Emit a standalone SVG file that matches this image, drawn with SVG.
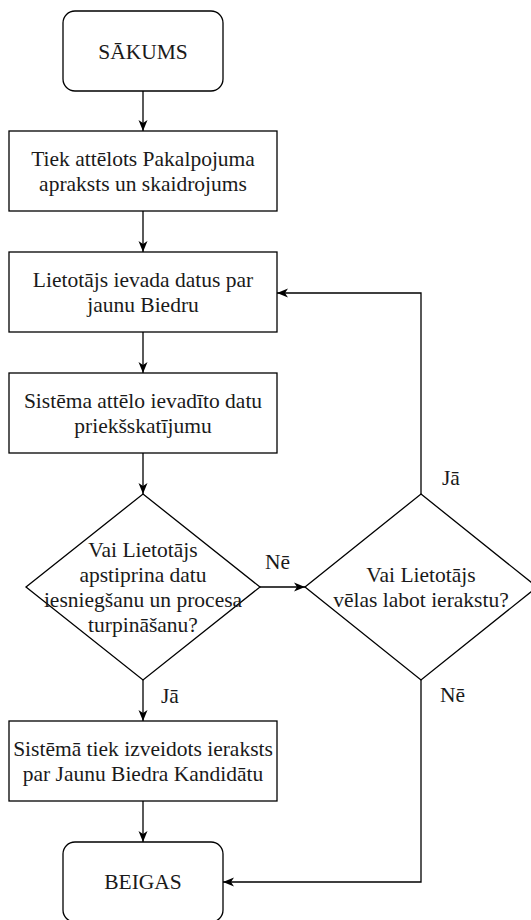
<svg xmlns="http://www.w3.org/2000/svg" width="531" height="920" viewBox="0 0 531 920">
<defs>
<style>
.n{fill:#fff;stroke:#000;stroke-width:1.3}
text{font-family:'Liberation Serif','DejaVu Serif',serif;font-size:21.5px;fill:#1a1a1a}
.t{text-anchor:middle}
.c{fill:none;stroke:#000;stroke-width:1.3}
</style>
<marker id="a" viewBox="0 0 11 10" refX="11" refY="5" markerWidth="11" markerHeight="10" markerUnits="userSpaceOnUse" orient="auto">
<path d="M0,0.5 L11,5 L0,9.5 L3,5 z" fill="#000"/>
</marker>
</defs>
<rect width="531" height="920" fill="#fff"/>
<g id="connectors">
<path class="c" d="M143,91 V131" marker-end="url(#a)"/>
<path class="c" d="M143,211 V252" marker-end="url(#a)"/>
<path class="c" d="M143,332 V373" marker-end="url(#a)"/>
<path class="c" d="M143,453 V494" marker-end="url(#a)"/>
<path class="c" d="M143,680 V721" marker-end="url(#a)"/>
<path class="c" d="M143,801 V842" marker-end="url(#a)"/>
<path class="c" d="M260,587 H305" marker-end="url(#a)"/>
<path class="c" d="M421,494 V293 H277" marker-end="url(#a)"/>
<path class="c" d="M421,680 V882 H223" marker-end="url(#a)"/>
<text x="265" y="569">Nē</text>
<text x="442" y="485">Jā</text>
<text x="161" y="703">Jā</text>
<text x="440" y="702">Nē</text>
</g>
<g id="start">
<rect class="n" x="63" y="11" width="160" height="80" rx="12"/>
<text class="t" x="143" y="59">SĀKUMS</text>
</g>
<g id="show-description">
<rect class="n" x="9" y="131" width="268" height="80"/>
<text class="t" x="143" y="166">Tiek attēlots Pakalpojuma</text>
<text class="t" x="143" y="191">apraksts un skaidrojums</text>
</g>
<g id="enter-data">
<rect class="n" x="9" y="252" width="268" height="80"/>
<text class="t" x="143" y="287">Lietotājs ievada datus par</text>
<text class="t" x="143" y="312">jaunu Biedru</text>
</g>
<g id="preview">
<rect class="n" x="9" y="373" width="268" height="80"/>
<text class="t" x="143" y="408">Sistēma attēlo ievadīto datu</text>
<text class="t" x="143" y="433">priekšskatījumu</text>
</g>
<g id="confirm">
<path class="n" d="M143,494 L260,587 L143,680 L26,587 Z"/>
<text class="t" x="143" y="557">Vai Lietotājs</text>
<text class="t" x="143" y="582">apstiprina datu</text>
<text class="t" x="143" y="607">iesniegšanu un procesa</text>
<text class="t" x="143" y="632">turpināšanu?</text>
</g>
<g id="edit">
<path class="n" d="M421,494 L537,587 L421,680 L305,587 Z"/>
<text class="t" x="421" y="582">Vai Lietotājs</text>
<text class="t" x="421" y="607">vēlas labot ierakstu?</text>
</g>
<g id="create-record">
<rect class="n" x="9" y="721" width="268" height="80"/>
<text class="t" x="143" y="756">Sistēmā tiek izveidots ieraksts</text>
<text class="t" x="143" y="781">par Jaunu Biedra Kandidātu</text>
</g>
<g id="end">
<rect class="n" x="63" y="842" width="160" height="80" rx="12"/>
<text class="t" x="143" y="889">BEIGAS</text>
</g>
</svg>
